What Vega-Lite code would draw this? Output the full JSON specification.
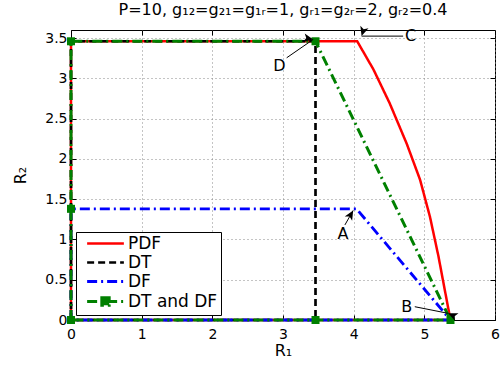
{
  "$schema": "https://vega.github.io/schema/vega-lite/v6.json",
  "width": 424,
  "height": 290,
  "autosize": {"type": "none"},
  "padding": {"left": 71, "top": 30, "right": 6, "bottom": 45},
  "background": "white",
  "config": {
    "font": "DejaVu Sans",
    "view": {"stroke": "black", "strokeWidth": 1},
    "axis": {
      "domainColor": "black",
      "tickColor": "black",
      "labelColor": "black",
      "titleColor": "black",
      "labelFont": "DejaVu Sans",
      "titleFont": "DejaVu Sans",
      "labelFontSize": 14,
      "titleFontSize": 16,
      "titleFontWeight": "normal",
      "gridColor": "#888888",
      "gridDash": [1, 3],
      "gridWidth": 1,
      "gridOpacity": 1,
      "tickSize": -5,
      "tickWidth": 1,
      "labelFlush": false
    },
    "legend": {
      "orient": "bottom-left",
      "offset": 5,
      "strokeColor": "black",
      "fillColor": "white",
      "padding": 3,
      "labelFont": "DejaVu Sans",
      "labelFontSize": 17,
      "labelColor": "black",
      "symbolStrokeWidth": 2.5,
      "symbolType": "M-3,0H3",
      "symbolSize": 150,
      "symbolOffset": 18,
      "labelOffset": 14,
      "rowPadding": 1
    }
  },
  "title": {
    "text": "P=10, g₁₂=g₂₁=g₁ᵣ=1, gᵣ₁=g₂ᵣ=2, gᵣ₂=0.4",
    "font": "DejaVu Sans",
    "fontSize": 16,
    "fontWeight": "normal",
    "color": "black",
    "anchor": "middle",
    "frame": "group",
    "baseline": "bottom",
    "offset": 12,
    "dy": 20
  },
  "resolve": {"axis": {"x": "independent", "y": "independent"}},
  "datasets": {
    "curves": [
      {"s": "PDF", "i": 1, "x": 0, "y": 0},
      {"s": "PDF", "i": 2, "x": 0, "y": 3.46},
      {"s": "PDF", "i": 3, "x": 4.05, "y": 3.46},
      {"s": "PDF", "i": 4, "x": 4.28, "y": 3.11},
      {"s": "PDF", "i": 5, "x": 4.51, "y": 2.69},
      {"s": "PDF", "i": 6, "x": 4.75, "y": 2.19},
      {"s": "PDF", "i": 7, "x": 4.94, "y": 1.74},
      {"s": "PDF", "i": 8, "x": 5.08, "y": 1.28},
      {"s": "PDF", "i": 9, "x": 5.2, "y": 0.79},
      {"s": "PDF", "i": 10, "x": 5.29, "y": 0.37},
      {"s": "PDF", "i": 11, "x": 5.37, "y": 0},
      {"s": "PDF", "i": 12, "x": 0, "y": 0},
      {"s": "DT", "i": 1, "x": 0, "y": 0},
      {"s": "DT", "i": 2, "x": 0, "y": 3.46},
      {"s": "DT", "i": 3, "x": 3.46, "y": 3.46},
      {"s": "DT", "i": 4, "x": 3.46, "y": 0},
      {"s": "DT", "i": 5, "x": 0, "y": 0},
      {"s": "DF", "i": 1, "x": 0, "y": 0},
      {"s": "DF", "i": 2, "x": 0, "y": 1.38},
      {"s": "DF", "i": 3, "x": 4.04, "y": 1.38},
      {"s": "DF", "i": 4, "x": 5.37, "y": 0},
      {"s": "DF", "i": 5, "x": 0, "y": 0},
      {"s": "DT and DF", "i": 1, "x": 0, "y": 0},
      {"s": "DT and DF", "i": 2, "x": 0, "y": 1.38},
      {"s": "DT and DF", "i": 3, "x": 0, "y": 3.46},
      {"s": "DT and DF", "i": 4, "x": 3.46, "y": 3.46},
      {"s": "DT and DF", "i": 5, "x": 5.37, "y": 0},
      {"s": "DT and DF", "i": 6, "x": 3.46, "y": 0},
      {"s": "DT and DF", "i": 7, "x": 0, "y": 0}
    ],
    "notes": [
      {"label": "A", "tx": 3.85, "ty": 1.07, "x1": 3.876, "y1": 1.18, "x2": 3.993, "y2": 1.36},
      {"label": "B", "tx": 4.75, "ty": 0.165, "x1": 4.865, "y1": 0.165, "x2": 5.336, "y2": 0.083},
      {"label": "C", "tx": 4.806, "ty": 3.524, "x1": 4.7, "y1": 3.524, "x2": 4.112, "y2": 3.524},
      {"label": "D", "tx": 2.95, "ty": 3.15, "x1": 3.052, "y1": 3.255, "x2": 3.428, "y2": 3.483}
    ]
  },
  "layer": [
    {
      "data": {"name": "curves"},
      "mark": {"type": "line", "strokeCap": "butt", "strokeJoin": "miter"},
      "encoding": {
        "x": {
          "field": "x",
          "type": "quantitative",
          "scale": {"domain": [0, 6], "nice": false, "zero": false, "padding": 0},
          "axis": {"values": [0, 1, 2, 3, 4, 5, 6], "format": "~g", "title": "R₁", "labelPadding": 12, "titlePadding": 1}
        },
        "y": {
          "field": "y",
          "type": "quantitative",
          "scale": {"domain": [0, 3.6], "nice": false, "zero": false, "padding": 0},
          "axis": {"values": [0, 0.5, 1, 1.5, 2, 2.5, 3, 3.5], "format": "~g", "title": "R₂", "labelPadding": 9, "titlePadding": 16}
        },
        "color": {
          "field": "s",
          "type": "nominal",
          "scale": {"domain": ["PDF", "DT", "DF", "DT and DF"], "range": ["#ff0000", "#000000", "#0000ff", "#008000"]},
          "legend": {
            "title": null,
            "encode": {
              "symbols": {
                "update": {
                  "shape": {"signal": "datum.label == 'DT and DF' ? 'M-3,0H3M-0.6,-0.6H0.6V0.6H-0.6Z' : 'M-3,0H3'"},
                  "fill": {"signal": "datum.label == 'DT and DF' ? '#008000' : 'transparent'"}
                }
              }
            }
          }
        },
        "strokeDash": {
          "field": "s",
          "type": "nominal",
          "scale": {"domain": ["PDF", "DT", "DF", "DT and DF"], "range": [[1, 0], [7, 4], [10, 4, 2, 4], [10, 4, 2, 4]]},
          "legend": {"title": null}
        },
        "strokeWidth": {
          "field": "s",
          "type": "nominal",
          "scale": {"domain": ["PDF", "DT", "DF", "DT and DF"], "range": [2.5, 3, 2, 2.8]},
          "legend": null
        },
        "order": {"field": "i", "type": "quantitative"}
      }
    },
    {
      "data": {"name": "curves"},
      "transform": [{"filter": "datum.s == 'DT and DF'"}],
      "mark": {"type": "point", "shape": "square", "filled": true, "color": "#008000", "size": 64, "opacity": 1},
      "encoding": {
        "x": {"field": "x", "type": "quantitative", "axis": null},
        "y": {"field": "y", "type": "quantitative", "axis": null}
      }
    },
    {
      "data": {"name": "notes"},
      "mark": {"type": "rule", "color": "black", "strokeWidth": 1},
      "encoding": {
        "x": {"field": "x1", "type": "quantitative", "axis": {"orient": "top", "values": [0, 1, 2, 3, 4, 5, 6], "labels": false, "title": null, "grid": false, "domain": false}},
        "y": {"field": "y1", "type": "quantitative", "axis": {"orient": "right", "values": [0, 0.5, 1, 1.5, 2, 2.5, 3, 3.5], "labels": false, "title": null, "grid": false, "domain": false}},
        "x2": {"field": "x2"},
        "y2": {"field": "y2"}
      }
    },
    {
      "data": {"name": "notes"},
      "mark": {"type": "point", "shape": "M0,0L-2,-0.9L-1.5,0L-2,0.9Z", "filled": true, "color": "black", "size": 90, "opacity": 1},
      "encoding": {
        "x": {"field": "x2", "type": "quantitative", "axis": null},
        "y": {"field": "y2", "type": "quantitative", "axis": null},
        "angle": {
          "field": "label",
          "type": "nominal",
          "scale": {"domain": ["A", "B", "C", "D"], "range": [300, 11, 180, 325]},
          "legend": null
        }
      }
    },
    {
      "data": {"name": "notes"},
      "mark": {"type": "text", "fontSize": 16, "color": "black", "align": "center", "baseline": "middle", "font": "DejaVu Sans"},
      "encoding": {
        "x": {"field": "tx", "type": "quantitative", "axis": null},
        "y": {"field": "ty", "type": "quantitative", "axis": null},
        "text": {"field": "label"}
      }
    }
  ]
}
